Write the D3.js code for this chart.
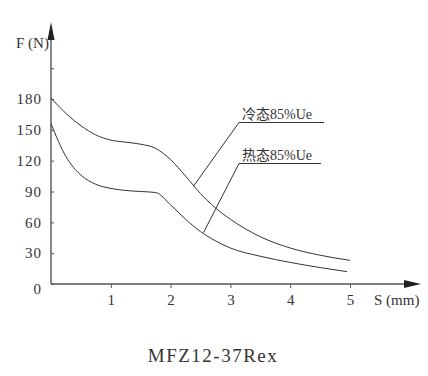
<!DOCTYPE html>
<html>
<head>
<meta charset="utf-8">
<script src="https://cdn.jsdelivr.net/npm/d3@7"></script>
<style>
  body { margin: 0; background: #fff; }
</style>
</head>
<body>
<div id="chart"></div>
<script>
// stroke (mm) and force (N)
const stroke = [0, 0.25, 0.5, 0.75, 1, 1.25, 1.5, 1.75, 2, 2.25, 2.5, 2.75, 3, 3.5, 4, 4.5, 5]
const coldForce = [181, 166, 154, 145, 140, 138, 136, 132, 121, 105, 88, 74, 63, 46, 35, 28, 23]
const hotStroke = [0, 0.25, 0.5, 0.75, 1, 1.25, 1.5, 1.75, 2, 2.25, 2.5, 2.75, 3, 3.5, 4, 4.5, 4.95]
const hotForce = [156, 124, 106, 97, 93, 91, 90, 89, 77, 63, 51, 42, 35, 27, 21, 16, 12]

const xTicks = [1, 2, 3, 4, 5]
const yTicks = [0, 30, 60, 90, 120, 150, 180, 210]
const yLabels = [0, 30, 60, 90, 120, 150, 180]

const seriesNames = ['冷态85%Ue', '热态85%Ue']
const title = 'MFZ12-37Rex'

const width = 428, height = 376
const serif = '"Liberation Serif", "DejaVu Serif", "Noto Serif", serif'
const cjk = '"Liberation Serif", "Noto Sans CJK SC", serif'

const svg = d3.select('#chart').append('svg')
  .attr('width', width)
  .attr('height', height)
  .attr('font-family', serif)

const x = d3.scaleLinear().domain([0, 5]).range([51, 350])
const y = d3.scaleLinear().domain([0, 180]).range([284, 99])

const axisColor = '#555'

// x axis
const xAxis = svg.append('g')
  .attr('transform', 'translate(0,' + y(0) + ')')
  .call(d3.axisBottom(x).tickValues(xTicks).tickSize(4).tickFormat(d3.format('d')))
xAxis.attr('font-family', serif)
xAxis.select('.domain').remove()
xAxis.selectAll('line').attr('stroke', axisColor)
xAxis.selectAll('text').attr('font-size', 15).attr('dy', '0.95em').attr('fill', '#333')

svg.append('line')
  .attr('x1', x(0)).attr('x2', 406)
  .attr('y1', y(0)).attr('y2', y(0))
  .attr('stroke', axisColor).attr('stroke-width', 1.4)
svg.append('path')
  .attr('d', 'M404,' + (y(0) - 4) + 'L421,' + y(0) + 'L404,' + (y(0) + 4) + 'Z')
  .attr('fill', '#222')

// y axis
const yAxis = svg.append('g')
  .attr('transform', 'translate(' + x(0) + ',0)')
  .call(d3.axisLeft(y).tickValues(yTicks).tickSizeInner(-3).tickSizeOuter(0)
    .tickPadding(9)
    .tickFormat(d => yLabels.includes(d) ? d : ''))
yAxis.attr('font-family', serif)
yAxis.select('.domain').remove()
yAxis.selectAll('line').attr('stroke', axisColor)
yAxis.selectAll('text').attr('font-size', 15).attr('fill', '#333').attr('letter-spacing', 1)
yAxis.selectAll('.tick').filter(d => d === 0).select('text').attr('dy', '0.6em')

svg.append('line')
  .attr('x1', x(0)).attr('x2', x(0))
  .attr('y1', y(0)).attr('y2', 38)
  .attr('stroke', axisColor).attr('stroke-width', 1.4)
svg.append('path')
  .attr('d', 'M' + (x(0) - 3.5) + ',40L' + x(0) + ',22L' + (x(0) + 3.5) + ',40Z')
  .attr('fill', '#222')

// axis titles
svg.append('text').attr('x', 16).attr('y', 48).attr('font-size', 15).attr('fill', '#333').text('F (N)')
svg.append('text').attr('x', 374).attr('y', 305).attr('font-size', 15).attr('fill', '#333').text('S (mm)')

// curves
const line = d3.line()
  .x(d => x(d[0]))
  .y(d => y(d[1]))
  .curve(d3.curveMonotoneX)

const coldData = d3.zip(stroke, coldForce)
const hotData = d3.zip(hotStroke, hotForce)

svg.selectAll('.curve')
  .data([coldData, hotData])
  .enter().append('path')
  .attr('class', 'curve')
  .attr('d', line)
  .attr('fill', 'none')
  .attr('stroke', '#333')
  .attr('stroke-width', 1)

// leader lines with labels
const notes = [
  { name: seriesNames[0], s: 2.38, f: 95, lx: 239, ly: 122.5, len: 85 },
  { name: seriesNames[1], s: 2.55, f: 50, lx: 239, ly: 163.5, len: 82 }
]

const note = svg.selectAll('.note')
  .data(notes)
  .enter().append('g')
  .attr('class', 'note')

note.append('path')
  .attr('d', d => 'M' + x(d.s) + ',' + y(d.f) + 'L' + d.lx + ',' + d.ly + 'H' + (d.lx + d.len))
  .attr('fill', 'none')
  .attr('stroke', '#333')
  .attr('stroke-width', 1)

note.append('text')
  .attr('x', d => d.lx + 3)
  .attr('y', d => d.ly - 4)
  .attr('font-family', cjk)
  .attr('font-size', 14)
  .attr('fill', '#333')
  .text(d => d.name)

// title
svg.append('text')
  .attr('x', 213).attr('y', 362)
  .attr('text-anchor', 'middle')
  .attr('font-size', 19)
  .attr('letter-spacing', 1.5)
  .attr('fill', '#333')
  .text(title)
</script>
</body>
</html>
